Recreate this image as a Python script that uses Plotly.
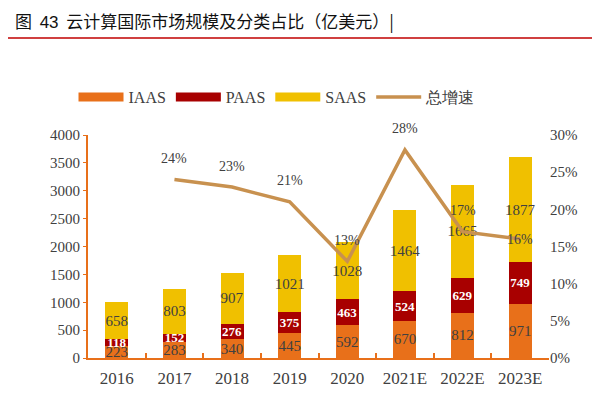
import plotly.graph_objects as go

# 云计算国际市场规模 (亿美元) + 总增速
years = ["2016", "2017", "2018", "2019", "2020", "2021E", "2022E", "2023E"]
iaas = [223, 283, 340, 445, 592, 670, 812, 971]
paas = [118, 152, 276, 375, 463, 524, 629, 749]
saas = [658, 803, 907, 1021, 1028, 1464, 1665, 1877]
growth = [None, 0.24, 0.23, 0.21, 0.13, 0.28, 0.17, 0.16]
growth_labels = ["", "24%", "23%", "21%", "13%", "28%", "17%", "16%"]

SERIF = "Liberation Serif, Times New Roman, serif"
GREY = "#404040"
AXIS_ORANGE = "#E8701A"
LINE_COLOR = "#C8914F"

# page has ~8px body margin, so plot box is placed with that in mind
L, R, T, B = 80, 59, 127, 50
PLOT_H = 400 - T - B

fig = go.Figure()

bar_specs = [
    ("IAAS", iaas, "#E8701A", GREY, 15),
    ("PAAS", paas, "#A80000", "white", 13),
    ("SAAS", saas, "#F0C000", GREY, 15),
]
for name, vals, color, txt_color, fsize in bar_specs:
    fig.add_trace(go.Bar(
        x=years, y=vals, name=name, showlegend=False,
        marker=dict(color=color, line=dict(width=0)),
        text=[f"<b>{v}</b>" if name == "PAAS" else str(v) for v in vals],
        textposition="inside",
        insidetextanchor="middle",
        constraintext="none",
        textangle=0,
        textfont=dict(family=SERIF, size=fsize, color=txt_color),
        width=0.4,
    ))
    # legend entry drawn as a wide block like the original
    fig.add_trace(go.Scatter(
        x=[None], y=[None], name=name, mode="lines",
        line=dict(color=color, width=9),
    ))

fig.add_trace(go.Scatter(
    x=years, y=growth, name="总增速", yaxis="y2",
    mode="lines",
    line=dict(color=LINE_COLOR, width=3.5),
))

# growth labels sit ~20px above the points (last one on the line)
# x given as category index: "2017" etc. would be read as numbers
for i, (yr, g, lab) in enumerate(zip(years, growth, growth_labels)):
    if g is None:
        continue
    fig.add_annotation(
        x=i, y=g, xref="x", yref="y2", text=lab, showarrow=False,
        yshift=0 if yr == "2023E" else 21,
        font=dict(family=SERIF, size=14, color=GREY),
    )

fig.update_layout(
    width=600, height=400,
    margin=dict(l=L, r=R, t=T, b=B, autoexpand=False),
    paper_bgcolor="white", plot_bgcolor="white",
    barmode="stack",
    showlegend=True,
    legend=dict(
        orientation="h", x=0.41, xanchor="center", y=1.0 + (T - 89) / PLOT_H, yanchor="middle",
        font=dict(family=SERIF, size=16, color=GREY),
        traceorder="normal",
        itemwidth=45,
    ),
    title=dict(
        text="图  <span style='font-family:Liberation Sans;font-weight:normal'>43</span>  云计算国际市场规模及分类占比（亿美元）|",
        x=7 / 600, xref="container", xanchor="left",
        y=1 - 14 / 400, yanchor="middle",
        font=dict(family="Noto Sans CJK SC", size=17, color="#111111"),
    ),
    xaxis=dict(
        type="category", categoryorder="array", categoryarray=years,
        range=[-0.5, len(years) - 0.5],
        showline=True, linecolor=AXIS_ORANGE, linewidth=2,
        ticks="inside", tickson="boundaries", ticklen=5, tickcolor=AXIS_ORANGE, tickwidth=2,
        tickfont=dict(family=SERIF, size=17, color=GREY),
        ticklabelstandoff=4,
        showgrid=False,
    ),
    yaxis=dict(
        range=[0, 4000], dtick=500,
        showline=True, linecolor=AXIS_ORANGE, linewidth=2,
        ticks="outside", ticklen=3, tickcolor=AXIS_ORANGE,
        tickfont=dict(family=SERIF, size=15, color=GREY),
        showgrid=False, zeroline=False,
    ),
    yaxis2=dict(
        range=[0, 0.3], dtick=0.05, tickformat=".0%",
        overlaying="y", side="right",
        showline=False, showgrid=False, zeroline=False,
        tickfont=dict(family=SERIF, size=15, color=GREY),
    ),
    shapes=[dict(
        type="line", xref="paper", yref="paper",
        x0=-L / (600 - L - R), x1=1 + R / (600 - L - R),
        y0=1 + (T - 30) / PLOT_H, y1=1 + (T - 30) / PLOT_H,
        line=dict(color="#C00000", width=1.5),
    )],
)

fig.write_html("out.html")
